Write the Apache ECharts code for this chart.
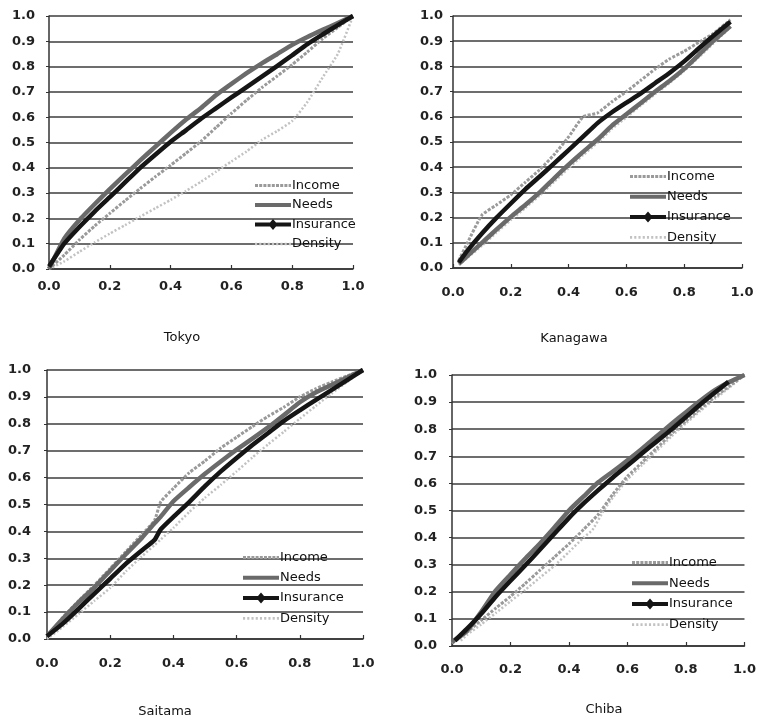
<!DOCTYPE html>
<html>
<head>
<meta charset="utf-8">
<script src="https://cdn.jsdelivr.net/npm/echarts@6/dist/echarts.min.js"></script>
<style>
html,body{margin:0;padding:0;background:#fff;}
#chart{width:759px;height:721px;}
</style>
</head>
<body>
<div id="chart"></div>
<script>
// ---------- DATA ----------
const seriesNames = ['Income', 'Needs', 'Insurance', 'Density'];
const panelNames = ['Tokyo', 'Kanagawa', 'Saitama', 'Chiba'];

// Tokyo
const tokyoX         = [0, 0.05, 0.1, 0.15, 0.2, 0.25, 0.3, 0.35, 0.4, 0.45, 0.5, 0.55, 0.6, 0.65, 0.7, 0.75, 0.8, 0.85, 0.9, 0.95, 1.0];
const tokyoIncome    = [0, 0.055, 0.115, 0.17, 0.22, 0.27, 0.318, 0.365, 0.41, 0.457, 0.505, 0.56, 0.615, 0.667, 0.717, 0.762, 0.808, 0.858, 0.91, 0.955, 1.0];
const tokyoNeeds     = [0, 0.12, 0.194, 0.256, 0.316, 0.373, 0.429, 0.484, 0.538, 0.59, 0.636, 0.688, 0.732, 0.774, 0.813, 0.849, 0.886, 0.917, 0.945, 0.972, 1.0];
const tokyoInsurance = [0.01, 0.1, 0.166, 0.227, 0.284, 0.342, 0.4, 0.452, 0.503, 0.548, 0.594, 0.636, 0.678, 0.719, 0.76, 0.802, 0.845, 0.889, 0.927, 0.964, 1.0];
const tokyoDensity   = [0, 0.03, 0.068, 0.105, 0.14, 0.173, 0.207, 0.24, 0.273, 0.308, 0.345, 0.385, 0.425, 0.465, 0.51, 0.545, 0.585, 0.66, 0.757, 0.85, 1.0];

// Kanagawa
const kanagawaX         = [0.02, 0.05, 0.1, 0.15, 0.2, 0.25, 0.3, 0.35, 0.4, 0.45, 0.5, 0.55, 0.6, 0.65, 0.7, 0.75, 0.8, 0.85, 0.9, 0.96];
const kanagawaIncome    = [0.03, 0.1, 0.21, 0.25, 0.29, 0.34, 0.39, 0.45, 0.52, 0.6, 0.615, 0.66, 0.7, 0.745, 0.79, 0.83, 0.86, 0.895, 0.93, 0.985];
const kanagawaNeeds     = [0.017, 0.048, 0.1, 0.152, 0.203, 0.25, 0.3, 0.356, 0.41, 0.461, 0.51, 0.565, 0.61, 0.655, 0.7, 0.743, 0.79, 0.845, 0.9, 0.96];
const kanagawaInsurance = [0.022, 0.069, 0.137, 0.199, 0.256, 0.312, 0.363, 0.415, 0.468, 0.521, 0.575, 0.618, 0.656, 0.693, 0.734, 0.775, 0.82, 0.871, 0.921, 0.977];
const kanagawaDensity   = [0.012, 0.04, 0.088, 0.14, 0.19, 0.238, 0.288, 0.342, 0.396, 0.448, 0.497, 0.552, 0.598, 0.645, 0.69, 0.735, 0.782, 0.836, 0.89, 0.955];

// Saitama
const saitamaX         = [0, 0.05, 0.1, 0.15, 0.2, 0.25, 0.3, 0.34, 0.36, 0.4, 0.45, 0.5, 0.55, 0.6, 0.65, 0.7, 0.75, 0.8, 0.85, 0.9, 0.95, 1.0];
const saitamaIncome    = [0.01, 0.08, 0.142, 0.2, 0.262, 0.325, 0.388, 0.44, 0.51, 0.56, 0.618, 0.662, 0.71, 0.75, 0.79, 0.828, 0.862, 0.9, 0.93, 0.955, 0.978, 1.0];
const saitamaNeeds     = [0.01, 0.075, 0.136, 0.192, 0.254, 0.316, 0.376, 0.43, 0.455, 0.512, 0.564, 0.614, 0.66, 0.704, 0.745, 0.787, 0.833, 0.88, 0.916, 0.944, 0.972, 1.0];
const saitamaInsurance = [0.01, 0.057, 0.112, 0.169, 0.224, 0.28, 0.329, 0.368, 0.408, 0.454, 0.509, 0.568, 0.623, 0.673, 0.721, 0.766, 0.811, 0.85, 0.888, 0.925, 0.962, 1.0];
const saitamaDensity   = [0, 0.045, 0.093, 0.142, 0.19, 0.252, 0.307, 0.349, 0.37, 0.413, 0.472, 0.525, 0.573, 0.623, 0.675, 0.724, 0.771, 0.819, 0.866, 0.912, 0.956, 1.0];

// Chiba
const chibaX          = [0, 0.05, 0.1, 0.15, 0.2, 0.25, 0.3, 0.35, 0.4, 0.45, 0.5, 0.55, 0.6, 0.65, 0.7, 0.75, 0.8, 0.85, 0.9, 0.95, 1.0];
const chibaIncome     = [0.01, 0.05, 0.095, 0.14, 0.183, 0.23, 0.279, 0.328, 0.377, 0.43, 0.485, 0.56, 0.626, 0.678, 0.73, 0.783, 0.83, 0.876, 0.92, 0.96, 1.0];
const chibaNeeds      = [0.015, 0.055, 0.126, 0.205, 0.264, 0.322, 0.377, 0.437, 0.5, 0.552, 0.604, 0.644, 0.685, 0.728, 0.774, 0.819, 0.863, 0.906, 0.945, 0.975, 1.0];
const chibaInsuranceX = [0.01, 0.05, 0.1, 0.15, 0.2, 0.25, 0.3, 0.35, 0.4, 0.45, 0.5, 0.55, 0.6, 0.65, 0.7, 0.75, 0.8, 0.85, 0.9, 0.945];
const chibaInsurance  = [0.02, 0.062, 0.119, 0.183, 0.241, 0.297, 0.355, 0.414, 0.473, 0.526, 0.575, 0.622, 0.666, 0.711, 0.755, 0.799, 0.845, 0.892, 0.936, 0.975];
const chibaDensityX   = [0.03, 0.05, 0.1, 0.15, 0.2, 0.25, 0.3, 0.35, 0.4, 0.45, 0.48, 0.52, 0.55, 0.6, 0.65, 0.7, 0.75, 0.8, 0.85, 0.9, 0.95, 1.0];
const chibaDensity    = [0.02, 0.04, 0.08, 0.122, 0.165, 0.207, 0.252, 0.296, 0.347, 0.4, 0.428, 0.502, 0.548, 0.615, 0.668, 0.72, 0.773, 0.822, 0.868, 0.913, 0.955, 1.0];

// ---------- build ----------
const panelSeries = [
  { Income: [tokyoX, tokyoIncome], Needs: [tokyoX, tokyoNeeds], Insurance: [tokyoX, tokyoInsurance], Density: [tokyoX, tokyoDensity] },
  { Income: [kanagawaX, kanagawaIncome], Needs: [kanagawaX, kanagawaNeeds], Insurance: [kanagawaX, kanagawaInsurance], Density: [kanagawaX, kanagawaDensity] },
  { Income: [saitamaX, saitamaIncome], Needs: [saitamaX, saitamaNeeds], Insurance: [saitamaX, saitamaInsurance], Density: [saitamaX, saitamaDensity] },
  { Income: [chibaX, chibaIncome], Needs: [chibaX, chibaNeeds], Insurance: [chibaInsuranceX, chibaInsurance], Density: [chibaDensityX, chibaDensity] }
];

// layout (pixels)
const grids = [
  { left: 49,  top: 16,  width: 304, height: 253 },
  { left: 453, top: 16,  width: 289, height: 252 },
  { left: 47,  top: 370, width: 316, height: 269 },
  { left: 452, top: 375, width: 295, height: 271 }
];
const yLabelMargin = [14, 10, 16, 15];
const xLabelMargin = [11, 18, 18, 17];
const titlePos = [[182, 331], [574, 332], [165, 705], [604, 703]];
const legendPos = [[255, 179, 6.5], [630, 170, 7.3], [243, 551, 7.3], [632, 556, 7.7]];

const lineStyles = {
  Income:    { color: '#9a9a9a', width: 3,   type: [3, 1.5], z: 2 },
  Needs:     { color: '#6a6a6a', width: 4.5, type: 'solid',  z: 3 },
  Insurance: { color: '#151515', width: 4.5, type: 'solid',  z: 4 },
  Density:   { color: '#c2c2c2', width: 2.5, type: [2, 2],   z: 1 }
};

// legend icons drawn as line-like paths
function dashedBar(dash, gap, h) {
  let p = 'path://';
  for (let x = 0; x < 36; x += dash + gap) {
    const w = Math.min(dash, 36 - x);
    p += 'M' + x + ',0h' + w + 'v' + h + 'h-' + w + 'z';
  }
  return p;
}
const legendIcons = {
  Income: dashedBar(3, 1.2, 3),
  Needs: 'path://M0,0h36v4h-36z',
  Insurance: 'path://M0,3.5h15l3,-3.5l3,3.5h15v4h-15l-3,3.5l-3,-3.5h-15z',
  Density: dashedBar(2, 2, 2.5)
};

const FONT = 'DejaVu Sans';

const option = {
  backgroundColor: '#ffffff',
  animation: false,
  grid: grids.map(g => Object.assign({ containLabel: false }, g)),
  title: panelNames.map((n, i) => ({
    text: n, left: titlePos[i][0], top: titlePos[i][1], textAlign: 'center', padding: 0,
    textStyle: { fontFamily: FONT, fontSize: 13, fontWeight: 'normal', color: '#111' }
  })),
  legend: legendPos.map((p) => ({
    data: seriesNames.map(n => ({ name: n, icon: legendIcons[n] })),
    orient: 'vertical', left: p[0], top: p[1], itemGap: p[2],
    itemWidth: 36, itemHeight: 14, padding: 0, selectedMode: false, symbolKeepAspect: true,
    textStyle: { fontFamily: FONT, fontSize: 13, color: '#111', padding: [0, 0, 0, -4] }
  })),
  xAxis: grids.map((g, i) => ({
    type: 'value', gridIndex: i, min: 0, max: 1, interval: 0.2,
    axisLine: { show: true, lineStyle: { color: '#333', width: 1.5 } },
    axisTick: { show: true, inside: true, length: 4, lineStyle: { color: '#333', width: 1.2 } },
    splitLine: { show: false },
    axisLabel: { margin: xLabelMargin[i], fontFamily: FONT, fontSize: 13, fontWeight: 'bold', color: '#222',
      formatter: v => v.toFixed(1) }
  })),
  yAxis: grids.map((g, i) => ({
    type: 'value', gridIndex: i, min: 0, max: 1, interval: 0.1,
    axisLine: { show: true, lineStyle: { color: '#333', width: 1.5 } },
    axisTick: { show: true, length: 3, lineStyle: { color: '#333' } },
    splitLine: { show: true, lineStyle: { color: '#3c3c3c', width: 1.6 } },
    axisLabel: { margin: yLabelMargin[i], fontFamily: FONT, fontSize: 13, fontWeight: 'bold', color: '#222',
      formatter: v => v.toFixed(1) }
  })),
  series: []
};

panelSeries.forEach((ps, i) => {
  seriesNames.forEach(name => {
    const [xs, ys] = ps[name];
    const st = lineStyles[name];
    option.series.push({
      type: 'line', name: name, xAxisIndex: i, yAxisIndex: i,
      data: xs.map((x, k) => [x, ys[k]]),
      smooth: 0.15,
      symbol: 'none', symbolSize: 0, showSymbol: false,
      itemStyle: { color: st.color },
      lineStyle: { color: st.color, width: st.width, type: st.type, cap: 'butt', join: 'round' },
      z: st.z + 2, silent: true
    });
  });
});

const chart = echarts.init(document.getElementById('chart'), null, { renderer: 'canvas' });
chart.setOption(option);
</script>
</body>
</html>
